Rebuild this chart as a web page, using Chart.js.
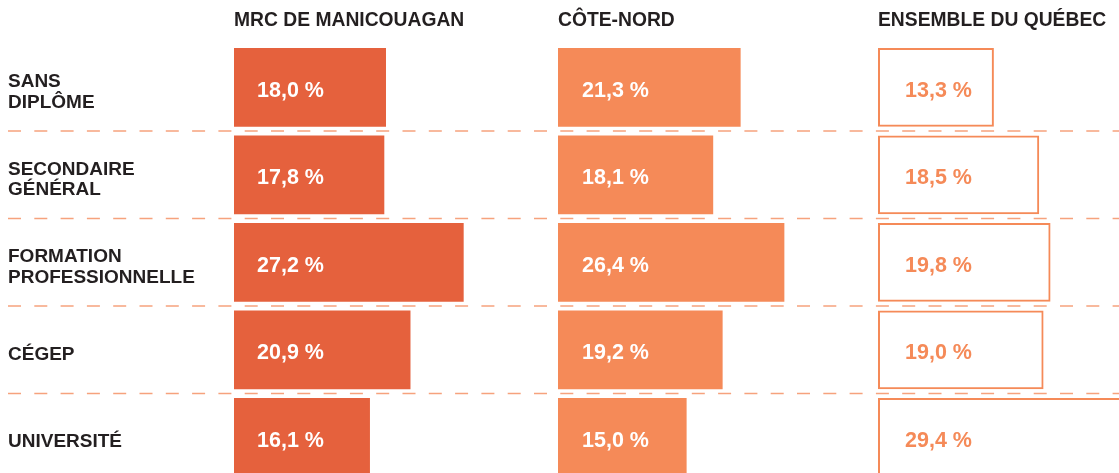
<!DOCTYPE html>
<html>
<head>
<meta charset="utf-8">
<script src="https://cdn.jsdelivr.net/npm/chart.js@4/dist/chart.umd.min.js"></script>
<style>
    html, body { margin: 0; padding: 0; background: #fff; overflow: hidden; width: 1119px; height: 473px; }
    #wrap { position: absolute; left: 0; top: 0; width: 1200px; height: 481px; }
</style>
</head>
<body>
<div id="wrap"><canvas id="scolarite-chart" width="1200" height="481"></canvas></div>
<script>
// categories (y axis) and the three regions
const categories = [["SANS", "DIPLÔME"], ["SECONDAIRE", "GÉNÉRAL"], ["FORMATION", "PROFESSIONNELLE"], ["CÉGEP"], ["UNIVERSITÉ"]];
const regions = ["MRC DE MANICOUAGAN", "CÔTE-NORD", "ENSEMBLE DU QUÉBEC"];

// values in %
const manicouagan = [18.0, 17.8, 27.2, 20.9, 16.1];
const coteNord = [21.3, 18.1, 26.4, 19.2, 15.0];
const quebec = [13.3, 18.5, 19.8, 19.0, 29.4];

const FONT = "'Liberation Sans', Arial, sans-serif";
const DARK = "#231F20";
const RED = "#E5613D";
const ORANGE = "#F58A58";

// dashed separators between the rows, over the full width
const separators = {
    id: "separators",
    beforeDatasetsDraw(chart) {
        const y = chart.scales.y;
        const ctx = chart.ctx;
        ctx.save();
        ctx.strokeStyle = "#F6A27D";
        ctx.lineWidth = 1.5;
        ctx.setLineDash([13, 13.3]);
        for (let i = 0; i < categories.length - 1; i++) {
            const py = (y.getPixelForValue(i) + y.getPixelForValue(i + 1)) / 2;
            ctx.beginPath();
            ctx.moveTo(8, py);
            ctx.lineTo(chart.width, py);
            ctx.stroke();
        }
        ctx.restore();
    }
};

// percentage written inside each bar
const valueLabels = {
    id: "valueLabels",
    afterDatasetsDraw(chart) {
        const ctx = chart.ctx;
        const offsets = [23, 24, 27];
        const colors = ["#fff", "#fff", ORANGE];
        ctx.save();
        ctx.font = "bold 21.5px " + FONT;
        ctx.textBaseline = "alphabetic";
        ctx.textAlign = "left";
        chart.data.datasets.forEach((ds, i) => {
            ctx.fillStyle = colors[i];
            chart.getDatasetMeta(i).data.forEach((bar, j) => {
                const txt = ds.data[j].toFixed(1).replace(".", ",") + " %";
                ctx.fillText(txt, bar.base + offsets[i], bar.y + 9.5);
            });
        });
        ctx.restore();
    }
};

// one x axis per region, stacked side by side on top
// (top boxes are sorted by descending weight, so the first panel gets the highest)
function regionAxis(title, max, width, order) {
    return {
        type: "linear",
        position: "top",
        stack: "regions",
        stackWeight: width,
        weight: order,
        min: 0,
        max: max,
        grid: { display: false },
        border: { display: false },
        ticks: { display: false },
        title: {
            display: true,
            text: title,
            align: "start",
            color: DARK,
            font: { family: FONT, size: 19.3, weight: "bold" },
            padding: { top: 9.5, bottom: 0 }
        },
        afterFit(scale) { scale.height = 43.5; }
    };
}

new Chart(document.getElementById("scolarite-chart"), {
    type: "bar",
    data: {
        labels: categories,
        datasets: [{
            label: regions[0],
            data: manicouagan,
            xAxisID: "x1",
            backgroundColor: RED,
            borderWidth: 0
        }, {
            label: regions[1],
            data: coteNord,
            xAxisID: "x2",
            backgroundColor: ORANGE,
            borderWidth: 0
        }, {
            label: regions[2],
            data: quebec,
            xAxisID: "x3",
            backgroundColor: "rgba(255,255,255,0)",
            borderColor: ORANGE,
            borderWidth: 2,
            borderSkipped: false
        }]
    },
    options: {
        indexAxis: "y",
        responsive: false,
        animation: false,
        layout: { padding: { left: 8, right: 0, top: 0, bottom: 0 } },
        datasets: {
            bar: { grouped: false, barPercentage: 0.9, categoryPercentage: 1.0 }
        },
        scales: {
            x1: regionAxis(regions[0], 38.37, 324, 3),
            x2: regionAxis(regions[1], 37.32, 320, 2),
            x3: regionAxis(regions[2], 36.95, 322, 1),
            y: {
                type: "category",
                grid: { display: false },
                border: { display: false },
                ticks: {
                    crossAlign: "far",
                    labelOffset: 5,
                    color: DARK,
                    font: { family: FONT, size: 19, weight: "bold", lineHeight: 1.1 }
                },
                afterFit(scale) {
                    scale.width = 226;
                    scale.paddingTop = 0;
                    scale.paddingBottom = 0;
                }
            }
        },
        plugins: {
            legend: { display: false },
            tooltip: { enabled: false }
        }
    },
    plugins: [separators, valueLabels]
});
</script>
</body>
</html>
